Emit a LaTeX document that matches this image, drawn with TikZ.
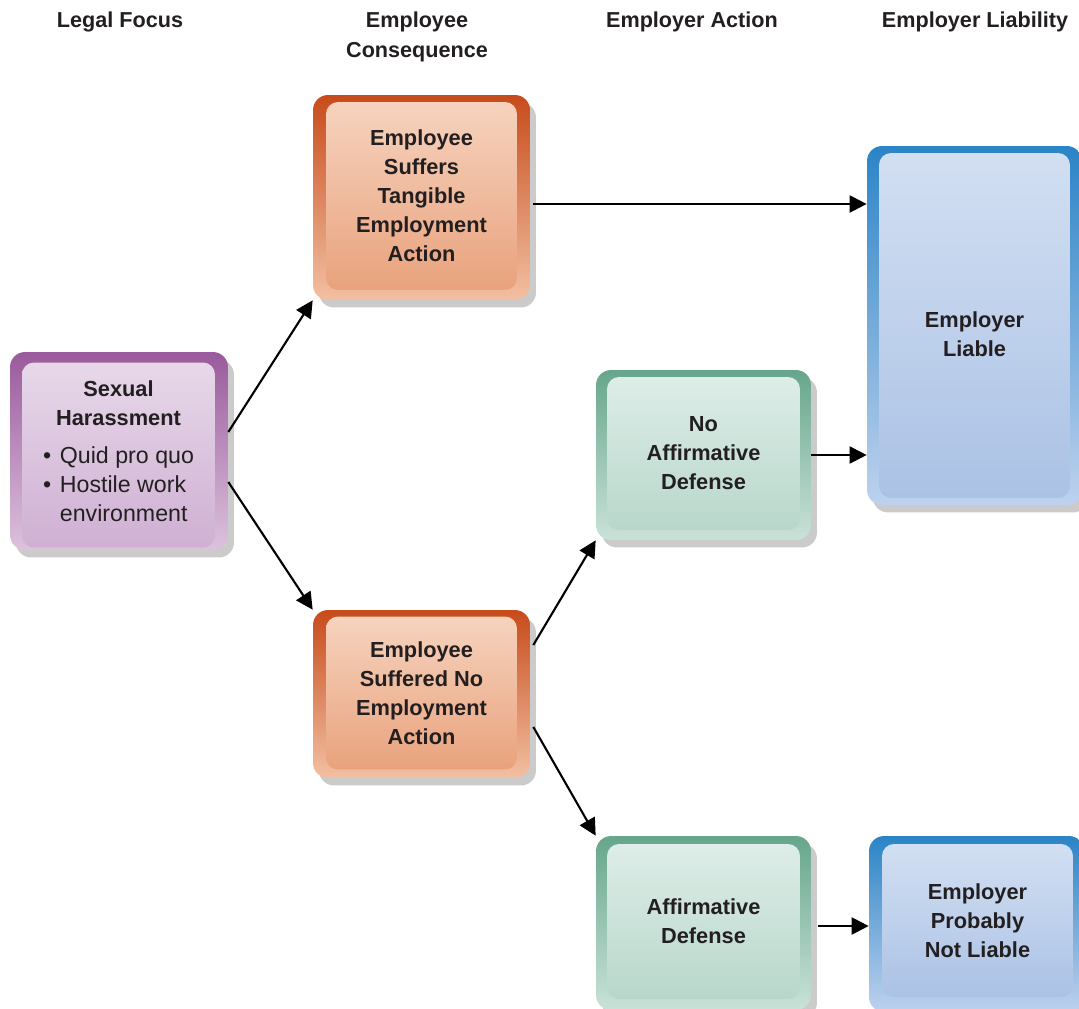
\documentclass[tikz,border=0pt]{standalone}
\usepackage{fontspec}
\setmainfont{Liberation Sans}
\usepackage{xcolor}
\usetikzlibrary{arrows.meta,calc,positioning,shadows}

\definecolor{inkgray}{HTML}{231F20}
\definecolor{shadowgray}{HTML}{CBCBCB}
\definecolor{purpletop}{HTML}{9A5A9C}
\definecolor{purplebot}{HTML}{DCC2DD}
\definecolor{purpleintop}{HTML}{E7D8E9}
\definecolor{purpleinbot}{HTML}{CFB0D3}
\definecolor{orangetop}{HTML}{C74B1B}
\definecolor{orangebot}{HTML}{F2C0A2}
\definecolor{orangeintop}{HTML}{F6D3BE}
\definecolor{orangeinbot}{HTML}{E9A27D}
\definecolor{greentop}{HTML}{66A68C}
\definecolor{greenbot}{HTML}{CAE2D8}
\definecolor{greenintop}{HTML}{DDEDE7}
\definecolor{greeninbot}{HTML}{B8D7CB}
\definecolor{bluetop}{HTML}{2B84C6}
\definecolor{bluebot}{HTML}{BED2EE}
\definecolor{blueintop}{HTML}{D2DFF2}
\definecolor{blueinbot}{HTML}{ABC2E5}

\begin{document}
\begin{tikzpicture}[x=0.02cm,y=-0.02cm,>={Triangle[length=0.34cm,width=0.34cm]},
  colhead/.style={text=inkgray,align=center,font=\bfseries\fontsize{12.3}{15}\selectfont},
  card/.style={rounded corners=0.3cm,inner sep=0pt,
    drop shadow={shadow xshift=0.12cm,shadow yshift=-0.15cm,fill=shadowgray,opacity=1}},
  cardin/.style={rounded corners=0.24cm,inner sep=0pt,text=inkgray,align=center,
    font=\bfseries\fontsize{12.4}{16.5}\selectfont},
  purpleout/.style={card,top color=purpletop,bottom color=purplebot},
  purplein/.style={cardin,top color=purpleintop,middle color=purpleintop,bottom color=purpleinbot},
  orangeout/.style={card,top color=orangetop,bottom color=orangebot},
  orangein/.style={cardin,top color=orangeintop,middle color=orangeintop,bottom color=orangeinbot},
  greenout/.style={card,top color=greentop,bottom color=greenbot},
  greenin/.style={cardin,top color=greenintop,middle color=greenintop,bottom color=greeninbot},
  blueout/.style={card,top color=bluetop,bottom color=bluebot},
  bluein/.style={cardin,top color=blueintop,middle color=blueintop,bottom color=blueinbot},
  link/.style={->,line width=1.2pt,black}]
  \useasboundingbox (0,0) rectangle (1079,1008);
  \clip (0,0) rectangle (1079,1008);

  % Column headings
  \node[colhead] (hlegal) at (120,22) {Legal Focus};
  \node[colhead] (hcons) at (417,37) {Employee\\[2pt]Consequence};
  \node[colhead] (haction) at (692,22) {Employer Action};
  \node[colhead] (hliab) at (975,22) {Employer Liability};

  % Legal focus
  \node[purpleout,minimum width=4.36cm,minimum height=3.96cm] (harass) at (119,451) {};
  \node[purplein,minimum width=3.86cm,minimum height=3.7cm] (harass-in) at (118.5,455)
    {Sexual\\Harassment\\[9pt]{\mdseries\fontsize{13.2}{16.5}\selectfont
     \begin{tabular}{@{}l@{\hspace{5pt}}l@{}}\textbullet&Quid pro quo\\\textbullet&Hostile work\\&environment\end{tabular}}};

  % Employee consequence
  \node[orangeout,minimum width=4.34cm,minimum height=4.1cm] (tang) at (421.5,197.5) {};
  \node[orangein,minimum width=3.82cm,minimum height=3.76cm] (tang-in) at (421.5,196)
    {Employee\\Suffers\\Tangible\\Employment\\Action};
  \node[orangeout,minimum width=4.34cm,minimum height=3.36cm] (notang) at (421.5,694) {};
  \node[orangein,minimum width=3.82cm,minimum height=3.06cm] (notang-in) at (421.5,693)
    {Employee\\Suffered No\\Employment\\Action};

  % Employer action
  \node[greenout,minimum width=4.3cm,minimum height=3.4cm] (nodef) at (703.5,455) {};
  \node[greenin,minimum width=3.86cm,minimum height=3.06cm] (nodef-in) at (703.5,453.5)
    {No\\Affirmative\\Defense};
  \node[greenout,minimum width=4.3cm,minimum height=3.48cm] (def) at (703.5,923) {};
  \node[greenin,minimum width=3.86cm,minimum height=3.1cm] (def-in) at (703.5,921.5)
    {Affirmative\\Defense};

  % Employer liability
  \node[blueout,minimum width=4.3cm,minimum height=7.18cm] (liable) at (974.5,325.5) {};
  \node[bluein,minimum width=3.82cm,minimum height=6.9cm] (liable-in) at (974.5,325.5)
    {\mbox{}\\[2.5pt]Employer\\Liable};
  \node[blueout,minimum width=4.3cm,minimum height=3.52cm] (notliable) at (976.5,924) {};
  \node[bluein,minimum width=3.82cm,minimum height=3.06cm] (notliable-in) at (977.5,920.5)
    {Employer\\Probably\\Not Liable};

  % Connectors
  \draw[link] ($(harass.east)+(0,-19)$) -- (tang.south west);
  \draw[link] ($(harass.east)+(0,31)$) -- (notang.north west);
  \draw[link] ($(tang.east)+(3,6.5)$) coordinate (t1) -- (t1 -| liable.west);
  \draw[link] ($(notang.east)+(3,-49)$) -- (nodef.south west);
  \draw[link] ($(notang.east)+(3,33)$) -- (def.north west);
  \draw[link] (nodef.east) -- (nodef.east -| liable.west);
  \draw[link] ($(def.east)+(7,3)$) coordinate (d1) -- (d1 -| notliable.west);
\end{tikzpicture}
\end{document}
